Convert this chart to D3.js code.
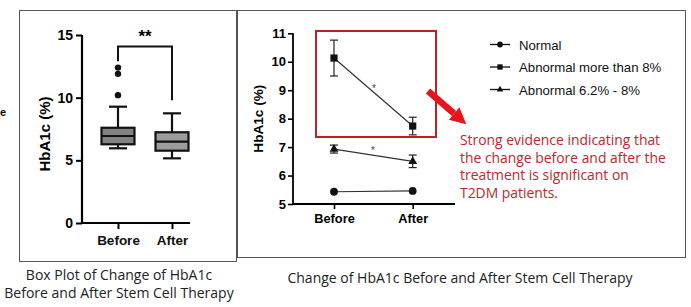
<!DOCTYPE html>
<html>
<head>
<meta charset="utf-8">
<script src="https://cdn.jsdelivr.net/npm/d3@7"></script>
<style>
  body { margin: 0; background: #fff; }
  svg { display: block; }
</style>
</head>
<body>
<script>
// ---- data ----
const groups = ['Before', 'After']

// box plot (left)
const boxLow = [5.96, 5.16]
const boxQ1 = [6.28, 5.77]
const boxMedian = [6.94, 6.49]
const boxQ3 = [7.6, 7.24]
const boxHigh = [9.28, 8.75]
const outliersBefore = [10.2, 11.9, 12.4]
const boxTicks = [0, 5, 10, 15]

// line chart (right)
const seriesNames = ['Normal', 'Abnormal more than 8%', 'Abnormal 6.2% - 8%']
const normalMean = [5.43, 5.46]
const normalErr = [0, 0]
const abn8Mean = [10.13, 7.74]
const abn8Err = [0.63, 0.31]
const abn62Mean = [6.93, 6.5]
const abn62Err = [0.14, 0.22]
const lineTicks = [5, 6, 7, 8, 9, 10, 11]

const noteLines = ['Strong evidence indicating that', 'the change before and after the', 'treatment is significant on', 'T2DM patients.']

const width = 691, height = 307
const axisFont = '"Liberation Sans", Arial, sans-serif'
const capFont = '"Open Sans", "Noto Sans", sans-serif'

const svg = d3.select('body').append('svg')
  .attr('width', width)
  .attr('height', height)

// panel frames
svg.append('rect').attr('x', 19.5).attr('y', 10.5).attr('width', 217).attr('height', 251)
  .attr('fill', 'none').attr('stroke', '#555').attr('stroke-width', 1)
svg.append('rect').attr('x', 237.5).attr('y', 10.5).attr('width', 448).attr('height', 247)
  .attr('fill', 'none').attr('stroke', '#555').attr('stroke-width', 1)

// stray fragment at the left edge
svg.append('text').attr('x', 0).attr('y', 116).text('e')
  .attr('font-family', axisFont).attr('font-weight', 'bold').attr('font-size', 11)

// ================= left: box plot =================
const yL = d3.scaleLinear().domain([0, 15]).range([223, 35])
const xL = d3.scalePoint().domain(groups).range([118, 172])

const gL = svg.append('g')

const yAxisL = d3.axisLeft(yL).tickValues(boxTicks).tickSize(6).tickSizeOuter(0)
gL.append('g').attr('transform', 'translate(82,0)').call(yAxisL)
  .call(g => {
    g.select('.domain').attr('stroke-width', 2.2).attr('d', `M0,${yL(15)}V${yL(0)}`)
    g.selectAll('.tick line').attr('stroke-width', 2)
    g.selectAll('.tick text').attr('font-family', axisFont).attr('font-weight', 'bold')
      .attr('font-size', 14).attr('x', -9)
  })

const xAxisL = d3.axisBottom(xL).tickSize(6).tickSizeOuter(0)
gL.append('g').attr('transform', `translate(0,${yL(0)})`).call(xAxisL)
  .call(g => {
    g.select('.domain').attr('stroke-width', 2.2).attr('d', 'M81,0H190')
    g.selectAll('.tick line').attr('stroke-width', 2)
    g.selectAll('.tick text').attr('font-family', axisFont).attr('font-weight', 'bold')
      .attr('font-size', 13.5).attr('y', 12).attr('fill', '#111')
  })

gL.append('text')
  .attr('transform', `translate(50,${(yL(0) + yL(15)) / 2 + 5}) rotate(-90)`)
  .attr('text-anchor', 'middle')
  .attr('font-family', axisFont).attr('font-weight', 'bold').attr('font-size', 15)
  .text('HbA1c (%)')

const boxW = 33
const boxFill = ['#838383', '#9c9c9c']
groups.forEach((grp, i) => {
  const cx = xL(grp)
  const b = gL.append('g').attr('stroke', '#111').attr('stroke-width', 2.2)
  b.append('line').attr('x1', cx).attr('x2', cx).attr('y1', yL(boxHigh[i])).attr('y2', yL(boxQ3[i]))
  b.append('line').attr('x1', cx).attr('x2', cx).attr('y1', yL(boxQ1[i])).attr('y2', yL(boxLow[i]))
  b.append('line').attr('x1', cx - 9).attr('x2', cx + 9).attr('y1', yL(boxHigh[i])).attr('y2', yL(boxHigh[i]))
  b.append('line').attr('x1', cx - 9).attr('x2', cx + 9).attr('y1', yL(boxLow[i])).attr('y2', yL(boxLow[i]))
  b.append('rect').attr('x', cx - boxW / 2).attr('width', boxW)
    .attr('y', yL(boxQ3[i])).attr('height', yL(boxQ1[i]) - yL(boxQ3[i]))
    .attr('fill', boxFill[i])
  b.append('line').attr('x1', cx - boxW / 2).attr('x2', cx + boxW / 2)
    .attr('y1', yL(boxMedian[i])).attr('y2', yL(boxMedian[i]))
})

gL.selectAll('circle.out')
  .data(outliersBefore)
  .join('circle')
  .attr('class', 'out')
  .attr('cx', xL('Before'))
  .attr('cy', d => yL(d))
  .attr('r', 3.2)
  .attr('fill', '#111')

// significance bracket
const brY = 46.5
gL.append('path')
  .attr('d', `M${xL('Before')},${yL(12.9)}V${brY}H${xL('After')}V${yL(9.8)}`)
  .attr('fill', 'none').attr('stroke', '#111').attr('stroke-width', 2)
gL.append('text').attr('x', (xL('Before') + xL('After')) / 2).attr('y', 42)
  .attr('text-anchor', 'middle')
  .attr('font-family', axisFont).attr('font-weight', 'bold').attr('font-size', 17)
  .text('**')

// caption
const capL = svg.append('text').attr('text-anchor', 'middle')
  .attr('font-family', capFont).attr('font-size', 14).attr('fill', '#222')
capL.append('tspan').attr('x', 119).attr('y', 280).text('Box Plot of Change of HbA1c')
capL.append('tspan').attr('x', 119).attr('y', 298).text('Before and After Stem Cell Therapy')

// ================= right: line chart =================
const yR = d3.scaleLinear().domain([5, 11]).range([204, 33.3])
const xR = d3.scalePoint().domain(groups).range([334, 412.7])

const gR = svg.append('g')

const yAxisR = d3.axisLeft(yR).tickValues(lineTicks).tickFormat(d3.format('d')).tickSize(5).tickSizeOuter(0)
gR.append('g').attr('transform', 'translate(293,0)').call(yAxisR)
  .call(g => {
    g.select('.domain').attr('stroke-width', 1.8).attr('d', `M0,${yR(11)}V${yR(5)}`)
    g.selectAll('.tick line').attr('stroke-width', 1.6)
    g.selectAll('.tick text').attr('font-family', axisFont).attr('font-weight', 'bold')
      .attr('font-size', 13).attr('x', -7)
  })

const xAxisR = d3.axisBottom(xR).tickSize(5).tickSizeOuter(0)
gR.append('g').attr('transform', `translate(0,${yR(5)})`).call(xAxisR)
  .call(g => {
    g.select('.domain').attr('stroke-width', 1.8).attr('d', 'M292,0H455')
    g.selectAll('.tick line').attr('stroke-width', 1.6)
    g.selectAll('.tick text').attr('font-family', axisFont).attr('font-weight', 'bold')
      .attr('font-size', 12.8).attr('y', 10)
  })

gR.append('text')
  .attr('transform', `translate(263,${(yR(5) + yR(11)) / 2}) rotate(-90)`)
  .attr('text-anchor', 'middle')
  .attr('font-family', axisFont).attr('font-weight', 'bold').attr('font-size', 13.6)
  .text('HbA1c (%)')

const series = [
  { name: seriesNames[0], mean: normalMean, err: normalErr, shape: d3.symbolCircle, size: 48 },
  { name: seriesNames[1], mean: abn8Mean, err: abn8Err, shape: d3.symbolSquare, size: 52 },
  { name: seriesNames[2], mean: abn62Mean, err: abn62Err, shape: d3.symbolTriangle, size: 34 }
]

const line = d3.line().x((d, i) => xR(groups[i])).y(d => yR(d))

series.forEach(s => {
  const g = gR.append('g')
  g.append('path').attr('d', line(s.mean)).attr('fill', 'none')
    .attr('stroke', '#333').attr('stroke-width', 1.2)
  s.mean.forEach((m, i) => {
    if (!s.err[i]) return
    const cx = xR(groups[i])
    const eb = g.append('g').attr('stroke', '#222').attr('stroke-width', 1.2)
    eb.append('line').attr('x1', cx).attr('x2', cx).attr('y1', yR(m + s.err[i])).attr('y2', yR(m - s.err[i]))
    eb.append('line').attr('x1', cx - 4).attr('x2', cx + 4).attr('y1', yR(m + s.err[i])).attr('y2', yR(m + s.err[i]))
    eb.append('line').attr('x1', cx - 4).attr('x2', cx + 4).attr('y1', yR(m - s.err[i])).attr('y2', yR(m - s.err[i]))
  })
  g.selectAll('path.mk')
    .data(s.mean)
    .join('path')
    .attr('class', 'mk')
    .attr('d', d3.symbol(s.shape, s.size))
    .attr('transform', (d, i) => `translate(${xR(groups[i])},${yR(d)})`)
    .attr('fill', '#111')
})

// small asterisks on lines
gR.append('text').attr('x', 374).attr('y', 92).attr('text-anchor', 'middle')
  .attr('font-family', axisFont).attr('font-size', 10).attr('fill', '#444').text('*')
gR.append('text').attr('x', 373).attr('y', 154).attr('text-anchor', 'middle')
  .attr('font-family', axisFont).attr('font-size', 10).attr('fill', '#444').text('*')

// red highlight box
gR.append('rect').attr('x', 316).attr('y', 31).attr('width', 120).attr('height', 106)
  .attr('fill', 'none').attr('stroke', '#c21f24').attr('stroke-width', 2)

// red arrow
svg.append('defs').append('marker')
  .attr('id', 'head').attr('viewBox', '0 0 10 10')
  .attr('refX', 0).attr('refY', 5)
  .attr('markerWidth', 2.5).attr('markerHeight', 2.9)
  .attr('orient', 'auto')
  .append('path').attr('d', 'M0,0L10,5L0,10Z').attr('fill', '#e8141c')
svg.append('line').attr('x1', 428).attr('y1', 91).attr('x2', 454).attr('y2', 113.5)
  .attr('stroke', '#e8141c').attr('stroke-width', 6.5)
  .attr('marker-end', 'url(#head)')

// legend
const leg = gR.append('g').attr('transform', 'translate(490,44.5)')
const legItem = leg.selectAll('g')
  .data(series)
  .join('g')
  .attr('transform', (d, i) => `translate(0,${i * 22.5})`)
legItem.append('line').attr('x1', 0).attr('x2', 20).attr('stroke', '#111').attr('stroke-width', 1.3)
legItem.append('path').attr('d', d => d3.symbol(d.shape, d.size * 0.55)()).attr('transform', 'translate(10,0)')
  .attr('fill', '#111')
legItem.append('text').attr('x', 29).attr('y', 5)
  .attr('font-family', axisFont).attr('font-size', 13.2).attr('fill', '#111')
  .text(d => d.name)

// annotation
const note = svg.append('text')
  .attr('font-family', capFont).attr('font-size', 13.9).attr('fill', '#c0262b')
note.selectAll('tspan')
  .data(noteLines)
  .join('tspan')
  .attr('x', 460)
  .attr('y', (d, i) => 145 + i * 17.6)
  .text(d => d)

// caption
svg.append('text').attr('x', 460).attr('y', 283).attr('text-anchor', 'middle')
  .attr('font-family', capFont).attr('font-size', 14).attr('fill', '#222')
  .text('Change of HbA1c Before and After Stem Cell Therapy')
</script>
</body>
</html>
